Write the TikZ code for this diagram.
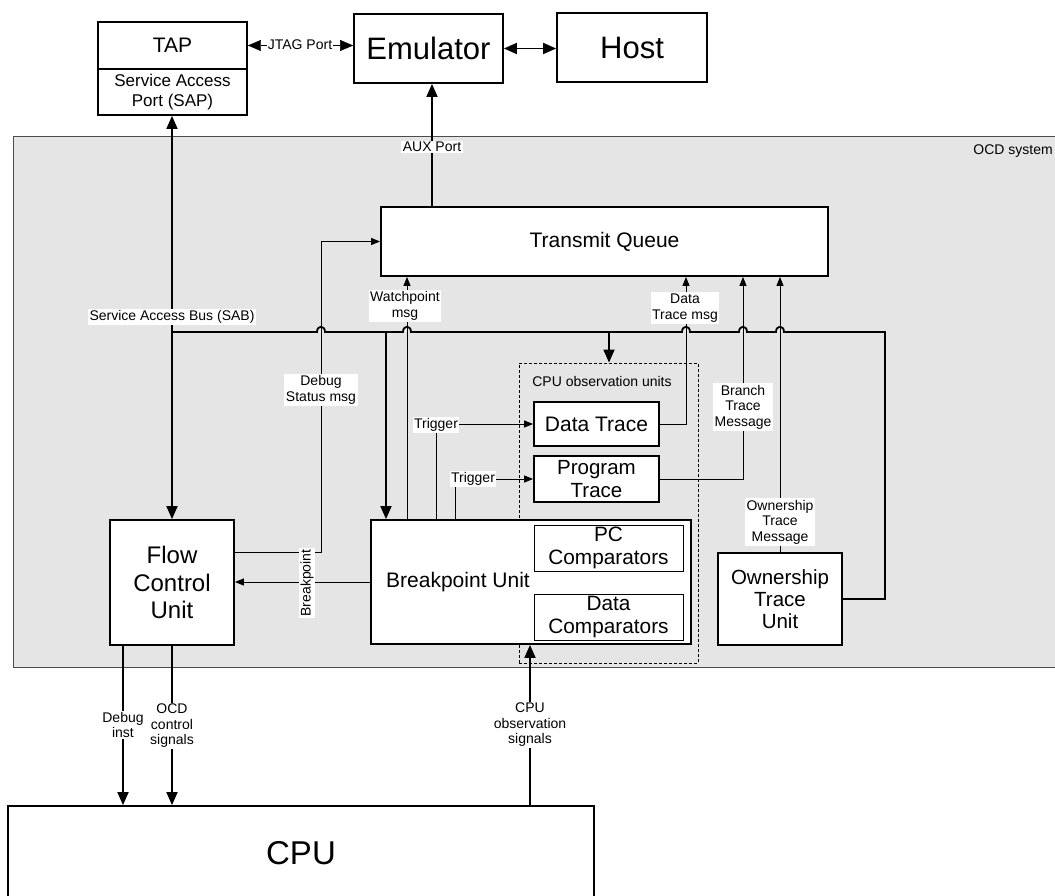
\documentclass[tikz,border=0pt]{standalone}
\usepackage{fontspec}
\setmainfont{Liberation Sans}
\usetikzlibrary{arrows.meta}

\definecolor{ocdgray}{HTML}{E5E5E5}

\tikzset{
  blk/.style={draw, line width=1.8pt, fill=white, inner sep=0pt, align=center,
    font=\fontsize{20.5}{23}\selectfont},
  sub/.style={draw, line width=0.9pt, fill=white, inner sep=0pt, align=center,
    font=\fontsize{20.8}{23}\selectfont},
  bus/.style={line width=1.8pt},
  sig/.style={line width=0.9pt},
  bigtip/.style={-{Triangle[length=13pt,width=11pt]}},
  bigtips/.style={{Triangle[length=13pt,width=11pt]}-{Triangle[length=13pt,width=11pt]}},
  smalltip/.style={-{Triangle[length=9pt,width=7pt]}},
  lbl/.style={fill=white, inner sep=1.5pt, align=center, font=\fontsize{14}{15.5}\selectfont},
  note/.style={inner sep=0pt, align=center, font=\fontsize{14}{15.5}\selectfont},
}

\begin{document}
\begin{tikzpicture}[x=1pt, y=-1pt]
    \useasboundingbox (0,0) rectangle (1055,896);

    % OCD system frame
    \node[draw=black!70, line width=1pt, fill=ocdgray, minimum width=1062pt, minimum height=530pt] (ocd) at (544,402) {};
    \node[note, anchor=east] (ocdlbl) at (1053,151) {OCD system};

    % Outside blocks
    \node[blk, minimum width=149pt, minimum height=47pt, font=\fontsize{21}{24}\selectfont] (tap) at (172.5,45.5) {TAP};
    \node[blk, minimum width=149pt, minimum height=46pt, font=\fontsize{17}{20.6}\selectfont] (sap) at (172.5,92) {Service Access\\Port (SAP)};
    \node[blk, minimum width=149pt, minimum height=69pt, font=\fontsize{31}{36}\selectfont] (emu) at (428.5,48.5) {Emulator};
    \node[blk, minimum width=150pt, minimum height=69pt, font=\fontsize{31}{36}\selectfont] (host) at (632,47.5) {Host};
    \node[blk, minimum width=586pt, minimum height=94pt, font=\fontsize{33}{40}\selectfont] (cpu) at (301,853) {CPU};

    % Connection points
    \coordinate (aux) at (432,0);
    \coordinate (sab) at (172,332);
    \coordinate (bpin) at (386,332);
    \coordinate (obsin) at (609,332);
    \coordinate (dsm) at (321,0);
    \coordinate (dsy) at (0,552);
    \coordinate (wp) at (407,0);
    \coordinate (tg1) at (436,0);
    \coordinate (tg2) at (455,0);
    \coordinate (dtm) at (686,0);
    \coordinate (btm) at (743,0);
    \coordinate (dbi) at (123,0);
    \coordinate (cobs) at (530,0);

    % Service access bus with jumps
    \draw[bus] (sab) -- (317,332) .. controls (317,325) and (325,325) .. (325,332)
        -- (403,332) .. controls (403,325) and (411,325) .. (411,332)
        -- (682,332) .. controls (682,325) and (690,325) .. (690,332)
        -- (739,332) .. controls (739,325) and (747,325) .. (747,332)
        -- (776,332) .. controls (776,325) and (784,325) .. (784,332)
        -- (885,332) |- (780,599);

    % Inner blocks
    \node[blk, minimum width=447pt, minimum height=69pt, font=\fontsize{21}{24}\selectfont] (tq) at (604.5,241.5) {Transmit Queue};
    \node[blk, minimum width=124pt, minimum height=125pt, font=\fontsize{24}{27.7}\selectfont] (fcu) at (172,582.5) {Flow\\Control\\Unit};
    \node[draw, dashed, dash pattern=on 3pt off 2pt, line width=0.9pt, minimum width=179pt, minimum height=300pt] (obs) at (608.5,513) {};
    \node[note] (obslbl) at (602,381) {CPU observation units};
    \node[blk, minimum width=320pt, minimum height=124pt] (bpu) at (531,582) {};
    \node[font=\fontsize{21}{24}\selectfont, inner sep=0pt] (bputxt) at (458,582) {Breakpoint Unit};
    \node[sub, minimum width=149pt, minimum height=46pt] (pcc) at (608.5,548) {PC\\Comparators};
    \node[sub, minimum width=149pt, minimum height=46pt] (dcc) at (608.5,617) {Data\\Comparators};
    \node[blk, minimum width=125pt, minimum height=44pt, font=\fontsize{21}{24}\selectfont] (dt) at (596.5,424) {Data Trace};
    \node[blk, minimum width=125pt, minimum height=46pt] (pt) at (596.5,479) {Program\\Trace};
    \node[blk, minimum width=124pt, minimum height=92pt, font=\fontsize{20.5}{22.3}\selectfont] (otu) at (780,599) {Ownership\\Trace\\Unit};

    % Ports
    \draw[bigtips] (tap.east) -- (tap.east -| emu.west);
    \node[lbl, inner sep=0.5pt] (jtaglbl) at (300,45) {JTAG Port};
    \draw[bus, bigtips] (emu.east) -- (emu.east -| host.west);
    \draw[bus, bigtip] (tq.north -| aux) -- (emu.south -| aux);
    \node[lbl] (auxlbl) at (432,147) {AUX Port};
    \draw[bus, bigtips] (sab |- sap.south) -- (sab |- fcu.north);
    \node[lbl] (sablbl) at (172,317) {Service Access Bus (SAB)};

    % Bus branches
    \draw[bus, bigtip] (bpin) -- (bpin |- bpu.north);
    \draw[bus, bigtip] (obsin) -- (obsin |- obs.north);

    % Messages to the transmit queue
    \draw[sig, smalltip] (fcu.east |- dsy) -- (dsm |- dsy) -- (dsm |- tq.west) -- (tq.west);
    \node[lbl] (dsmlbl) at (321,390) {Debug\\Status msg};
    \draw[sig, smalltip] (wp |- bpu.north) -- (wp |- tq.south);
    \node[lbl] (wplbl) at (405,306) {Watchpoint\\msg};
    \draw[sig, smalltip] (dt.east) -| (dtm |- tq.south);
    \node[lbl] (dtmlbl) at (685,308) {Data\\Trace msg};
    \draw[sig, smalltip] (pt.east) -| (btm |- tq.south);
    \node[lbl] (btmlbl) at (743,407) {Branch\\Trace\\Message};
    \draw[sig, smalltip] (otu.north) -- (otu.north |- tq.south);
    \node[lbl] (otmlbl) at (780,522) {Ownership\\Trace\\Message};

    % Triggers and breakpoint
    \draw[sig, smalltip] (tg1 |- bpu.north) |- (dt.west);
    \node[lbl] (trg1lbl) at (436,425) {Trigger};
    \draw[sig, smalltip] (tg2 |- bpu.north) |- (pt.west);
    \node[lbl] (trg2lbl) at (473,479) {Trigger};
    \draw[sig, smalltip] (bpu.west) -- (fcu.east |- bpu.west);
    \node[lbl, rotate=90] (bplbl) at (307,583) {Breakpoint};

    % CPU signals
    \draw[bus, bigtip] (dbi |- fcu.south) -- (dbi |- cpu.north);
    \node[lbl] (dbilbl) at (123,725) {Debug\\inst};
    \draw[bus, bigtip] (fcu.south) -- (fcu.south |- cpu.north);
    \node[lbl] (ocdclbl) at (172,726) {OCD\\control\\signals};
    \draw[bus, bigtip] (cobs |- cpu.north) -- (cobs |- bpu.south);
    \node[lbl] (cobslbl) at (530,725) {CPU\\observation\\signals};
\end{tikzpicture}
\end{document}
